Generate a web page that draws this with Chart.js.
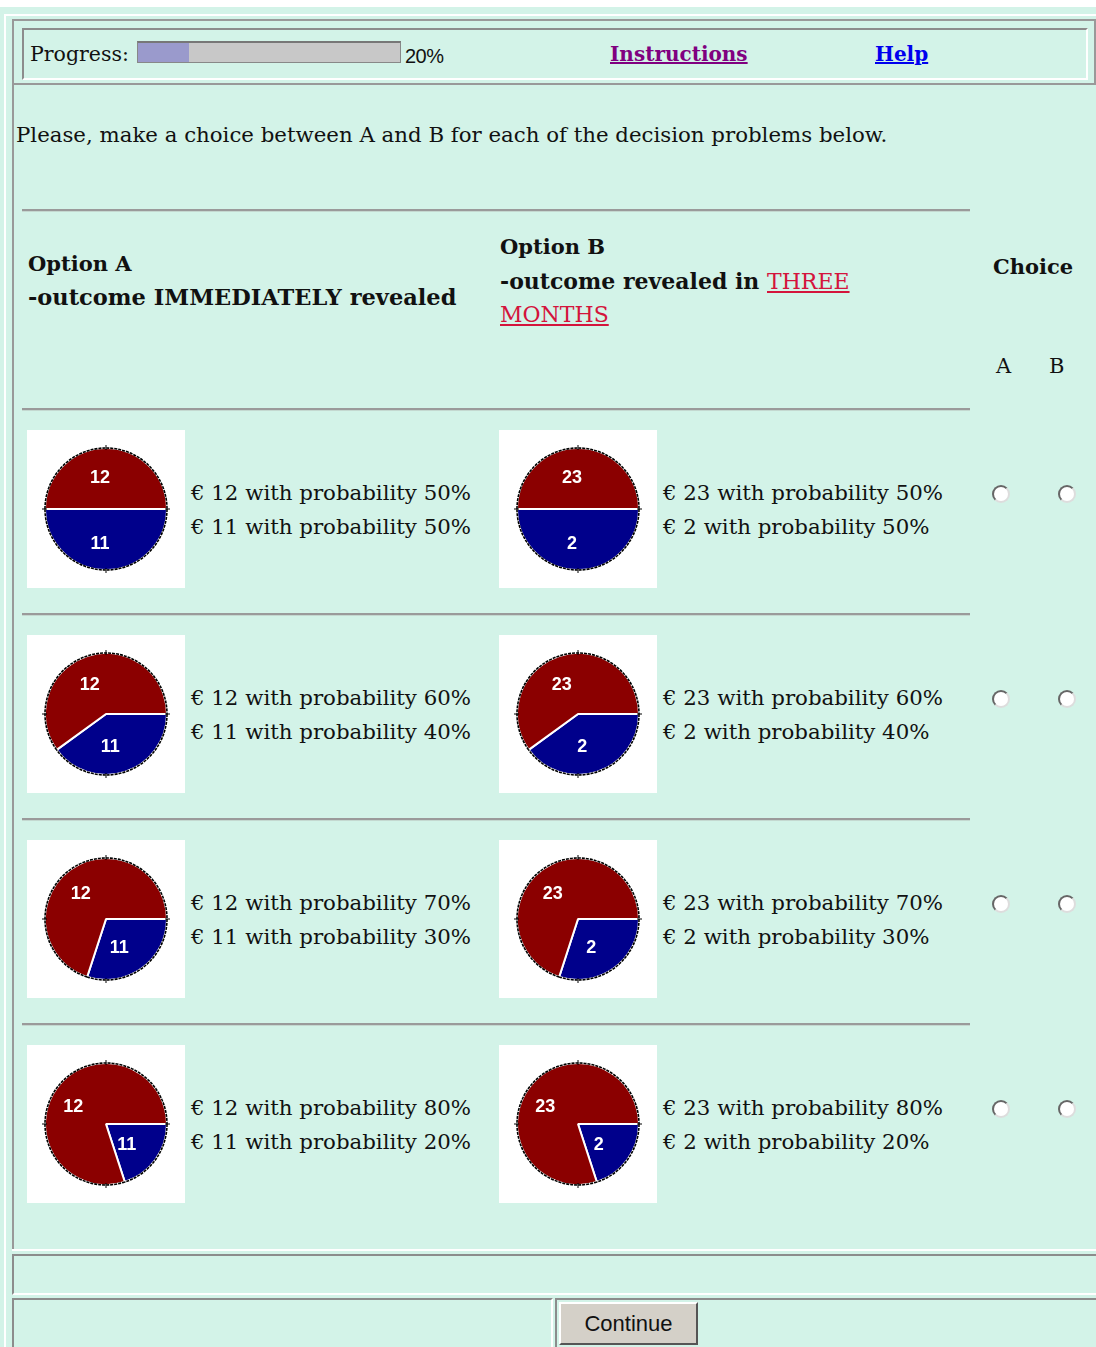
<!DOCTYPE html>
<html>
<head>
<meta charset="utf-8">
<script src="https://cdn.jsdelivr.net/npm/chart.js@4/dist/chart.umd.min.js"></script>
<style>
html, body { margin: 0; padding: 0; }
body { width: 1096px; height: 1347px; background: #d3f3e8; position: relative; overflow: hidden; font-family: "DejaVu Serif", serif; color: #111; }
.abs { position: absolute; }
.t { position: absolute; white-space: nowrap; line-height: 1; }
.hline { position: absolute; height: 0; border-top: 2px solid #9a9a9a; border-bottom: 1px solid #c4d8d0; }
.box { position: absolute; background: #fff; }
.radio { position: absolute; width: 18px; height: 18px; border-radius: 50%; background: #fff; border: 2px solid; border-color: #666 #ddd #ddd #666; box-sizing: border-box; }
.inset { position: absolute; box-sizing: border-box; border: 2px solid; border-color: #8c8c8c #fff #fff #8c8c8c; }
.outset { position: absolute; box-sizing: border-box; border: 2px solid; border-color: #fff #8c8c8c #8c8c8c #fff; }
a { text-decoration: underline; }
</style>
</head>
<body>
<div class="abs" style="left:0;top:0;width:1096px;height:7px;background:#fff"></div>
<div class="abs" style="left:4px;top:14px;width:1092px;height:2px;background:#fff"></div>
<div class="abs" style="left:4px;top:14px;width:2px;height:1333px;background:#fff"></div>

<!-- top frame -->
<div class="abs" style="left:12px;top:19px;width:1084px;height:66px;box-sizing:border-box;border:2px solid #999"></div>
<div class="inset" style="left:22px;top:28px;width:1066px;height:52px"></div>
<div class="abs" style="left:12px;top:84px;width:2px;height:1166px;background:#999"></div>

<div class="t" style="left:30px;top:44px;font-size:20.5px">Progress:</div>
<div class="abs" style="left:137px;top:41px;width:264px;height:22px;background:#c8c8c8;box-sizing:border-box;border:1px solid #888;border-top:2px solid #777"></div>
<div class="abs" style="left:138px;top:43px;width:51px;height:19px;background:#9a9acc"></div>
<div class="t" style="left:405px;top:46px;font-family:'Liberation Sans',sans-serif;font-size:20px;letter-spacing:-0.5px">20%</div>
<div class="t" style="left:610px;top:44px;font-size:20px;font-weight:bold;color:#800080"><a style="color:#800080">Instructions</a></div>
<div class="t" style="left:875px;top:44px;font-size:20px;font-weight:bold;color:#0000ee"><a style="color:#0000ee">Help</a></div>

<div class="t" id="intro" style="left:16px;top:124px;font-size:21.3px">Please, make a choice between A and B for each of the decision problems below.</div>

<!-- header -->
<div class="t" style="left:28px;top:253px;font-size:21px;font-weight:bold">Option A</div>
<div class="t" style="left:28px;top:286px;font-size:22.5px;font-weight:bold">-outcome IMMEDIATELY revealed</div>
<div class="t" style="left:500px;top:236px;font-size:21px;font-weight:bold">Option B</div>
<div class="t" style="left:500px;top:270px;font-size:22px;font-weight:bold">-outcome revealed in <a style="color:#d4143c;font-weight:normal">THREE</a></div>
<div class="t" style="left:500px;top:304px;font-size:22px;color:#d4143c"><a>MONTHS</a></div>
<div class="t" style="left:993px;top:256px;font-size:21px;font-weight:bold">Choice</div>
<div class="t" style="left:996px;top:356px;font-size:21px">A</div>
<div class="t" style="left:1049px;top:356px;font-size:21px">B</div>

<div id="rows"></div>

<!-- bottom -->
<div class="abs" style="left:12px;top:1249px;width:1084px;height:2px;background:#fff"></div>
<div class="inset" style="left:12px;top:1254px;width:1090px;height:41px"></div>
<div class="inset" style="left:12px;top:1298px;width:541px;height:60px"></div>
<div class="inset" style="left:555px;top:1298px;width:545px;height:60px"></div>
<div class="outset" style="left:559px;top:1302px;width:139px;height:43px;background:#d4d0c8;border-color:#fff #555 #555 #fff"></div>
<div class="t" style="left:559px;top:1313px;width:139px;text-align:center;font-family:'Liberation Sans Narrow','Liberation Sans',sans-serif;font-size:22px">Continue</div>

<script>
// values
const probabilities = [50, 60, 70, 80];   // chance of the higher outcome, per row
const optionA = [12, 11];                  // high, low
const optionB = [23, 2];                   // high, low
const sliceColors = ['#00008b', '#8b0000']; // low, high
const rowTops = [430, 635, 840, 1045];
const ruleTops = [209, 408, 613, 818, 1023];

const rowsEl = document.getElementById('rows')

ruleTops.forEach(y => {
    const d = document.createElement('div')
    d.className = 'hline'
    d.style.cssText = `left:22px;top:${y}px;width:948px`
    rowsEl.appendChild(d)
})

// outline, compass ticks and value labels on top of the pie
const pieDecor = {
    id: 'pieDecor',
    afterDatasetsDraw(chart) {
        const ctx = chart.ctx
        const arcs = chart.getDatasetMeta(0).data
        const c = arcs[0]
        ctx.save()
        ctx.strokeStyle = '#000'
        ctx.lineWidth = 1.6
        ctx.setLineDash([3, 1])
        arcs.forEach(a => {
            ctx.beginPath()
            ctx.arc(a.x, a.y, a.outerRadius, a.startAngle, a.endAngle)
            ctx.stroke()
        })
        ctx.setLineDash([])
        ctx.lineWidth = 1
        for (let k = 0; k < 4; k++) {
            const ang = k * Math.PI / 2
            ctx.beginPath()
            ctx.moveTo(c.x + Math.cos(ang) * (c.outerRadius - 2), c.y + Math.sin(ang) * (c.outerRadius - 2))
            ctx.lineTo(c.x + Math.cos(ang) * (c.outerRadius + 3), c.y + Math.sin(ang) * (c.outerRadius + 3))
            ctx.stroke()
        }
        ctx.fillStyle = '#fff'
        ctx.font = 'bold 18px "Liberation Sans", Arial, sans-serif'
        ctx.textAlign = 'center'
        ctx.textBaseline = 'middle'
        arcs.forEach((a, i) => {
            const mid = (a.startAngle + a.endAngle) / 2
            const r = a.outerRadius * 0.54
            ctx.fillText(chart.data.labels[i], a.x + Math.cos(mid) * r - 6, a.y + Math.sin(mid) * r + 2)
        })
        ctx.restore()
    }
}

function makePie(left, top, values, p) {
    const canvas = document.createElement('canvas')
    canvas.className = 'box'
    canvas.width = 158
    canvas.height = 158
    canvas.style.cssText = `left:${left}px;top:${top}px;width:158px;height:158px`
    rowsEl.appendChild(canvas)
    new Chart(canvas.getContext('2d'), {
        type: 'pie',
        data: {
            labels: [String(values[1]), String(values[0])],
            datasets: [{
                data: [100 - p, p],
                backgroundColor: sliceColors,
                borderColor: '#ffffff',
                borderWidth: 2
            }]
        },
        options: {
            responsive: false,
            animation: false,
            rotation: 90,
            layout: { padding: 17 },
            events: [],
            plugins: { legend: { display: false }, tooltip: { enabled: false } }
        },
        plugins: [pieDecor]
    })
}

function addText(left, top, txt) {
    const d = document.createElement('div')
    d.className = 't'
    d.style.cssText = `left:${left}px;top:${top}px;font-size:21.3px`
    d.textContent = txt
    rowsEl.appendChild(d)
}

probabilities.forEach((p, i) => {
    const top = rowTops[i]
    makePie(27, top, optionA, p)
    makePie(499, top, optionB, p)
    addText(191, top + 52, `€ ${optionA[0]} with probability ${p}%`)
    addText(191, top + 86, `€ ${optionA[1]} with probability ${100 - p}%`)
    addText(663, top + 52, `€ ${optionB[0]} with probability ${p}%`)
    addText(663, top + 86, `€ ${optionB[1]} with probability ${100 - p}%`)
    ;[1001, 1067].forEach(x => {
        const r = document.createElement('div')
        r.className = 'radio'
        r.style.cssText = `left:${x - 9}px;top:${top + 55}px`
        rowsEl.appendChild(r)
    })
})
</script>
</body>
</html>
